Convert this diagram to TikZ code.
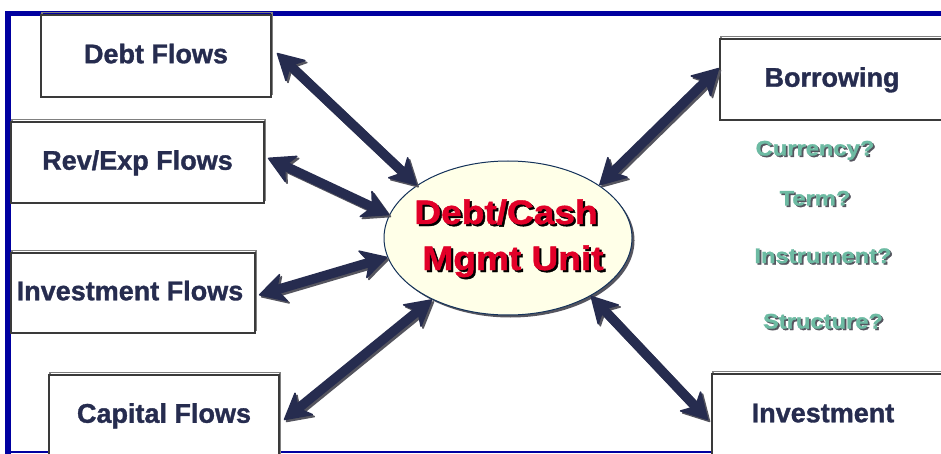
\documentclass[tikz,border=0pt]{standalone}
\usepackage{fontspec}
\usepackage{graphicx}
\setmainfont{Liberation Sans}[BoldFeatures={FakeBold=1.2}]
\usetikzlibrary{arrows.meta,shapes.geometric,calc}
\definecolor{navyc}{RGB}{38,44,79}
\definecolor{boxgray}{RGB}{58,58,58}
\definecolor{redtxt}{RGB}{226,0,40}
\definecolor{greentxt}{RGB}{109,187,163}
\definecolor{framec}{RGB}{0,0,160}
\definecolor{ellfill}{RGB}{255,255,232}
\definecolor{ellline}{RGB}{20,50,90}
\definecolor{shadc}{RGB}{85,85,95}
\newcommand{\shd}[3]{\rlap{\kern#3\raisebox{-#3}{\textcolor{#2}{#1}}}#1}
\tikzset{
  flowbox/.style={draw=boxgray, line width=1.8pt, fill=white, inner sep=0pt,
    text=navyc, font=\fontsize{27}{31}\selectfont\bfseries,
    text height=19.5pt, text depth=5pt,
    preaction={draw=gray, line width=1.2pt, transform canvas={shift={(1pt,2.5pt)}}}},
  dblarrow/.style={line width=9.5pt, draw=navyc,
    >={Stealth[length=28pt,width=31pt,inset=8pt,round,line width=1.5pt]}, <->},
  arrshadow/.style={dblarrow, draw=shadc, transform canvas={shift={(2pt,-2pt)}}},
  redlabel/.style={anchor=base, inner sep=0pt, text=redtxt, font=\fontsize{34}{40}\selectfont\bfseries},
  greenlabel/.style={anchor=base, inner sep=0pt, text=greentxt, font=\fontsize{21}{24}\selectfont\bfseries},
}
\newcommand{\flowarrow}[2]{%
  \draw[arrshadow] #1 -- #2;
  \draw[dblarrow] #1 -- #2;}
\begin{document}
\begin{tikzpicture}[x=1pt,y=-1pt]
\useasboundingbox (0,0) rectangle (941,454);
\clip (0,0) rectangle (941,454);
\fill[white] (0,0) rectangle (941,454);

% frame
\fill[framec] (5,11) rectangle (941,16.5);
\fill[framec] (5,11) rectangle (11,454);
\draw[framec, line width=1.3pt] (11,452) -- (941,452);

% boxes
\node[flowbox, minimum width=230pt, minimum height=82pt] (debt) at (156,56) {Debt Flows};
\node[flowbox, minimum width=253pt, minimum height=81pt] (rev) at (137.5,162.5) {Rev/Exp Flows};
\node[flowbox, minimum width=244pt, minimum height=80pt] (invf) at (133,293) {\hspace*{-6pt}Investment Flows};
\node[flowbox, minimum width=230pt, minimum height=81pt] (cap) at (164,415.5) {Capital Flows};
\node[flowbox, minimum width=224pt, minimum height=81pt] (borr) at (832,79.5) {Borrowing};
\node[flowbox, minimum width=234pt, minimum height=82pt] (inv) at (829,415) {\hspace*{-12pt}Investment};

% central ellipse
\fill[shadc] (510.5,240.5) ellipse [x radius=124pt, y radius=77pt];
\node[ellipse, draw=ellline, line width=1pt, fill=ellfill, minimum width=248pt, minimum height=154pt, inner sep=0pt] (unit) at (508,238) {};
\node[redlabel] (l1) at (506,224) {\scalebox{1.09}[1]{\shd{Debt/Cash}{black}{2pt}}};
\node[redlabel] (l2) at (513,270) {\scalebox{1.09}[1]{\shd{Mgmt Unit}{black}{2pt}}};

% arrows
\flowarrow{($(debt.east)+(5,-3)$)}{(unit.150)}
\flowarrow{($(rev.east)+(3,-4.5)$)}{(unit.169)}
\flowarrow{($(invf.east)+(3,2)$)}{(unit.189)}
\flowarrow{($(cap.east)+(4,4.5)$)}{(unit.219)}
\flowarrow{($(borr.west)+(0,-11.5)$)}{(unit.30)}
\flowarrow{($(inv.west)+(-3,5)$)}{(unit.325)}

% questions
\node[greenlabel] (q1) at (815,155.5) {\scalebox{1.13}[1]{\shd{Currency?}{shadc}{1.5pt}}};
\node[greenlabel] (q2) at (815,205.5) {\scalebox{1.13}[1]{\shd{Term?}{shadc}{1.5pt}}};
\node[greenlabel] (q3) at (823,263) {\scalebox{1.13}[1]{\shd{Instrument?}{shadc}{1.5pt}}};
\node[greenlabel] (q4) at (823,328.5) {\scalebox{1.13}[1]{\shd{Structure?}{shadc}{1.5pt}}};
\end{tikzpicture}
\end{document}
